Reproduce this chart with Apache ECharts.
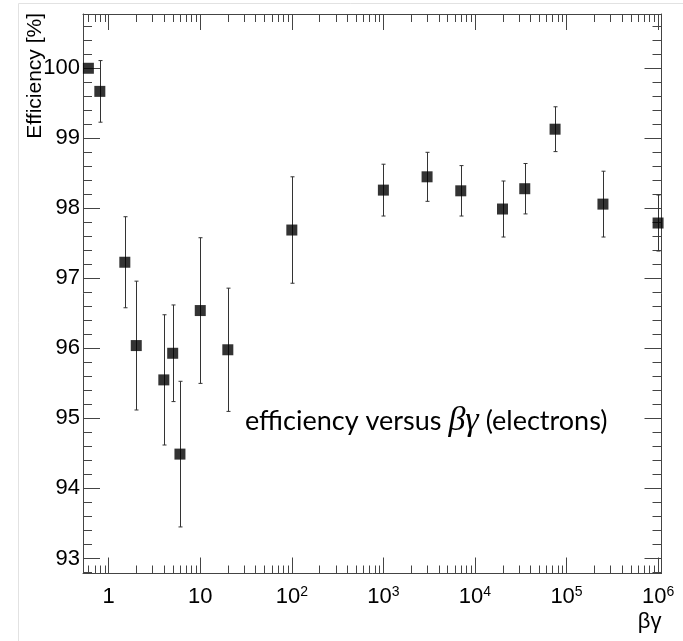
<!DOCTYPE html>
<html>
<head>
<meta charset="utf-8">
<script src="https://cdn.jsdelivr.net/npm/echarts@6/dist/echarts.min.js"></script>
<style>html,body{margin:0;padding:0;background:#fff;}#c{width:683px;height:641px;}</style>
</head>
<body>
<div id="c"></div>
<script>
// ---- data ----
const betaGamma = [0.6, 0.8, 1.5, 2, 4, 5, 6, 10, 20, 100, 1000, 3000, 7000, 20000, 35000, 75000, 250000, 1000000];
const efficiency = [100.0, 99.67, 97.23, 96.04, 95.55, 95.93, 94.49, 96.54, 95.98, 97.69, 98.26, 98.45, 98.25, 97.99, 98.28, 99.13, 98.06, 97.79];
const errors = [0, 0.44, 0.65, 0.92, 0.93, 0.69, 1.04, 1.04, 0.88, 0.76, 0.37, 0.35, 0.36, 0.40, 0.36, 0.32, 0.47, 0.40];
const xMinorTicks = [0.6, 0.7, 0.8, 0.9, 2, 3, 4, 5, 6, 7, 8, 9, 20, 30, 40, 50, 60, 70, 80, 90,
  200, 300, 400, 500, 600, 700, 800, 900, 2000, 3000, 4000, 5000, 6000, 7000, 8000, 9000,
  20000, 30000, 40000, 50000, 60000, 70000, 80000, 90000, 200000, 300000, 400000, 500000, 600000, 700000, 800000, 900000];
const X_MIN = 0.524, X_MAX = 1.09e6;
const Y_MIN = 92.785, Y_MAX = 100.775;
const yTitle = 'Efficiency [%]';
const xTitle = 'βγ';

const AX = '#444';
const chart = echarts.init(document.getElementById('c'));

function xLabel(v) {
  const l = Math.log10(v), r = Math.round(l);
  if (Math.abs(l - r) > 1e-6) return '';
  if (r === 0) return '1';
  if (r === 1) return '10';
  return '10{sup|' + r + '}';
}
function yLabel(v) {
  return Math.abs(v - Math.round(v)) < 1e-6 ? String(Math.round(v)) : '';
}

const pts = betaGamma.map((x, i) => [x, efficiency[i]]);
const errData = betaGamma.map((x, i) => [x, efficiency[i], errors[i]]);
const minorData = xMinorTicks.map(v => [v, Y_MIN]);

chart.setOption({
  animation: false,
  backgroundColor: '#fff',
  grid: { left: 83, top: 14, width: 578.5, height: 559.5, containLabel: false, outerBoundsMode: 'none' },
  xAxis: [
    {
      type: 'log', min: X_MIN, max: X_MAX, position: 'bottom',
      axisLine: { show: true, lineStyle: { color: AX, width: 1 } },
      axisTick: { show: true, inside: true, length: 16, lineStyle: { color: AX } },
      splitLine: { show: false },
      axisLabel: {
        formatter: xLabel, margin: 12, color: '#000', fontFamily: 'Liberation Sans', fontSize: 22,
        lineHeight: 22, showMinLabel: false, showMaxLabel: true,
        rich: { sup: { fontSize: 14, lineHeight: 14, verticalAlign: 'top', fontFamily: 'Liberation Sans', color: '#000' } }
      },
      name: xTitle, nameLocation: 'end', nameGap: 0,
      nameTextStyle: { fontFamily: 'Liberation Sans', fontSize: 22, color: '#000', align: 'right', verticalAlign: 'top', padding: [37, 0, 0, 0] }
    },
    {
      type: 'log', min: X_MIN, max: X_MAX, position: 'top',
      axisLine: { show: true, lineStyle: { color: AX, width: 1 } },
      axisTick: { show: true, inside: true, length: 16, lineStyle: { color: AX } },
      splitLine: { show: false }, axisLabel: { show: false }
    }
  ],
  yAxis: [
    {
      type: 'value', min: Y_MIN, max: Y_MAX, splitNumber: 8, position: 'left',
      axisLine: { show: true, lineStyle: { color: AX, width: 1 } },
      axisTick: { show: true, inside: true, length: 17, lineStyle: { color: AX } },
      minorTick: { show: true, splitNumber: 5, length: 9, lineStyle: { color: AX } },
      splitLine: { show: false },
      axisLabel: { formatter: yLabel, margin: 3, color: '#000', fontFamily: 'Liberation Sans', fontSize: 22, showMinLabel: false, showMaxLabel: false }
    },
    {
      type: 'value', min: Y_MIN, max: Y_MAX, splitNumber: 8, position: 'right',
      axisLine: { show: true, lineStyle: { color: AX, width: 1 } },
      axisTick: { show: true, inside: true, length: 17, lineStyle: { color: AX } },
      minorTick: { show: true, splitNumber: 5, length: 9, lineStyle: { color: AX } },
      splitLine: { show: false }, axisLabel: { show: false }
    }
  ],
  graphic: [
    { type: 'line', shape: { x1: 18.5, y1: 3.5, x2: 683, y2: 3.5 }, style: { stroke: '#e2e2e2', lineWidth: 1 }, silent: true },
    { type: 'line', shape: { x1: 18.5, y1: 3.5, x2: 18.5, y2: 641 }, style: { stroke: '#e2e2e2', lineWidth: 1 }, silent: true },
    {
      type: 'text', x: 35, y: 13, rotation: Math.PI / 2, silent: true,
      style: { text: yTitle, fontFamily: 'Liberation Sans', fontSize: 21, fill: '#000', align: 'right', verticalAlign: 'middle' }
    },
    {
      type: 'text', left: 245, top: 404, silent: true,
      style: {
        text: 'efficiency versus {m|βγ} (electrons)',
        fontFamily: 'Lato', fontSize: 27, fill: '#000',
        rich: { m: { fontFamily: 'Liberation Serif', fontStyle: 'italic', fontSize: 34, fill: '#000' } }
      }
    }
  ],
  series: [
    {
      type: 'custom', xAxisIndex: 0, yAxisIndex: 0, data: minorData, encode: { x: 0, y: 1 }, silent: true, clip: false,
      renderItem: function (params, api) {
        const cs = params.coordSys;
        const px = Math.round(api.coord([api.value(0), Y_MIN])[0]) + 0.5;
        const b = cs.y + cs.height, t = cs.y;
        const st = { stroke: AX, lineWidth: 1 };
        return { type: 'group', children: [
          { type: 'line', shape: { x1: px, y1: b, x2: px, y2: b - 8 }, style: st },
          { type: 'line', shape: { x1: px, y1: t, x2: px, y2: t + 8 }, style: st }
        ] };
      }
    },
    {
      type: 'custom', xAxisIndex: 0, yAxisIndex: 0, data: errData, encode: { x: 0, y: 1 }, silent: true,
      renderItem: function (params, api) {
        const x = api.value(0), y = api.value(1), e = api.value(2);
        if (!e) return null;
        const top = api.coord([x, y + e]), bot = api.coord([x, y - e]);
        const cx = Math.round(top[0]) + 0.5;
        const st = { stroke: '#333', lineWidth: 1 };
        return { type: 'group', children: [
          { type: 'line', shape: { x1: cx, y1: top[1], x2: cx, y2: bot[1] }, style: st },
          { type: 'line', shape: { x1: cx - 2, y1: top[1], x2: cx + 2, y2: top[1] }, style: st },
          { type: 'line', shape: { x1: cx - 2, y1: bot[1], x2: cx + 2, y2: bot[1] }, style: st }
        ] };
      }
    },
    {
      type: 'scatter', xAxisIndex: 0, yAxisIndex: 0, data: pts, symbol: 'rect', symbolSize: 11,
      itemStyle: { color: '#000' }, clip: false, z: 5
    }
  ]
});
</script>
</body>
</html>
